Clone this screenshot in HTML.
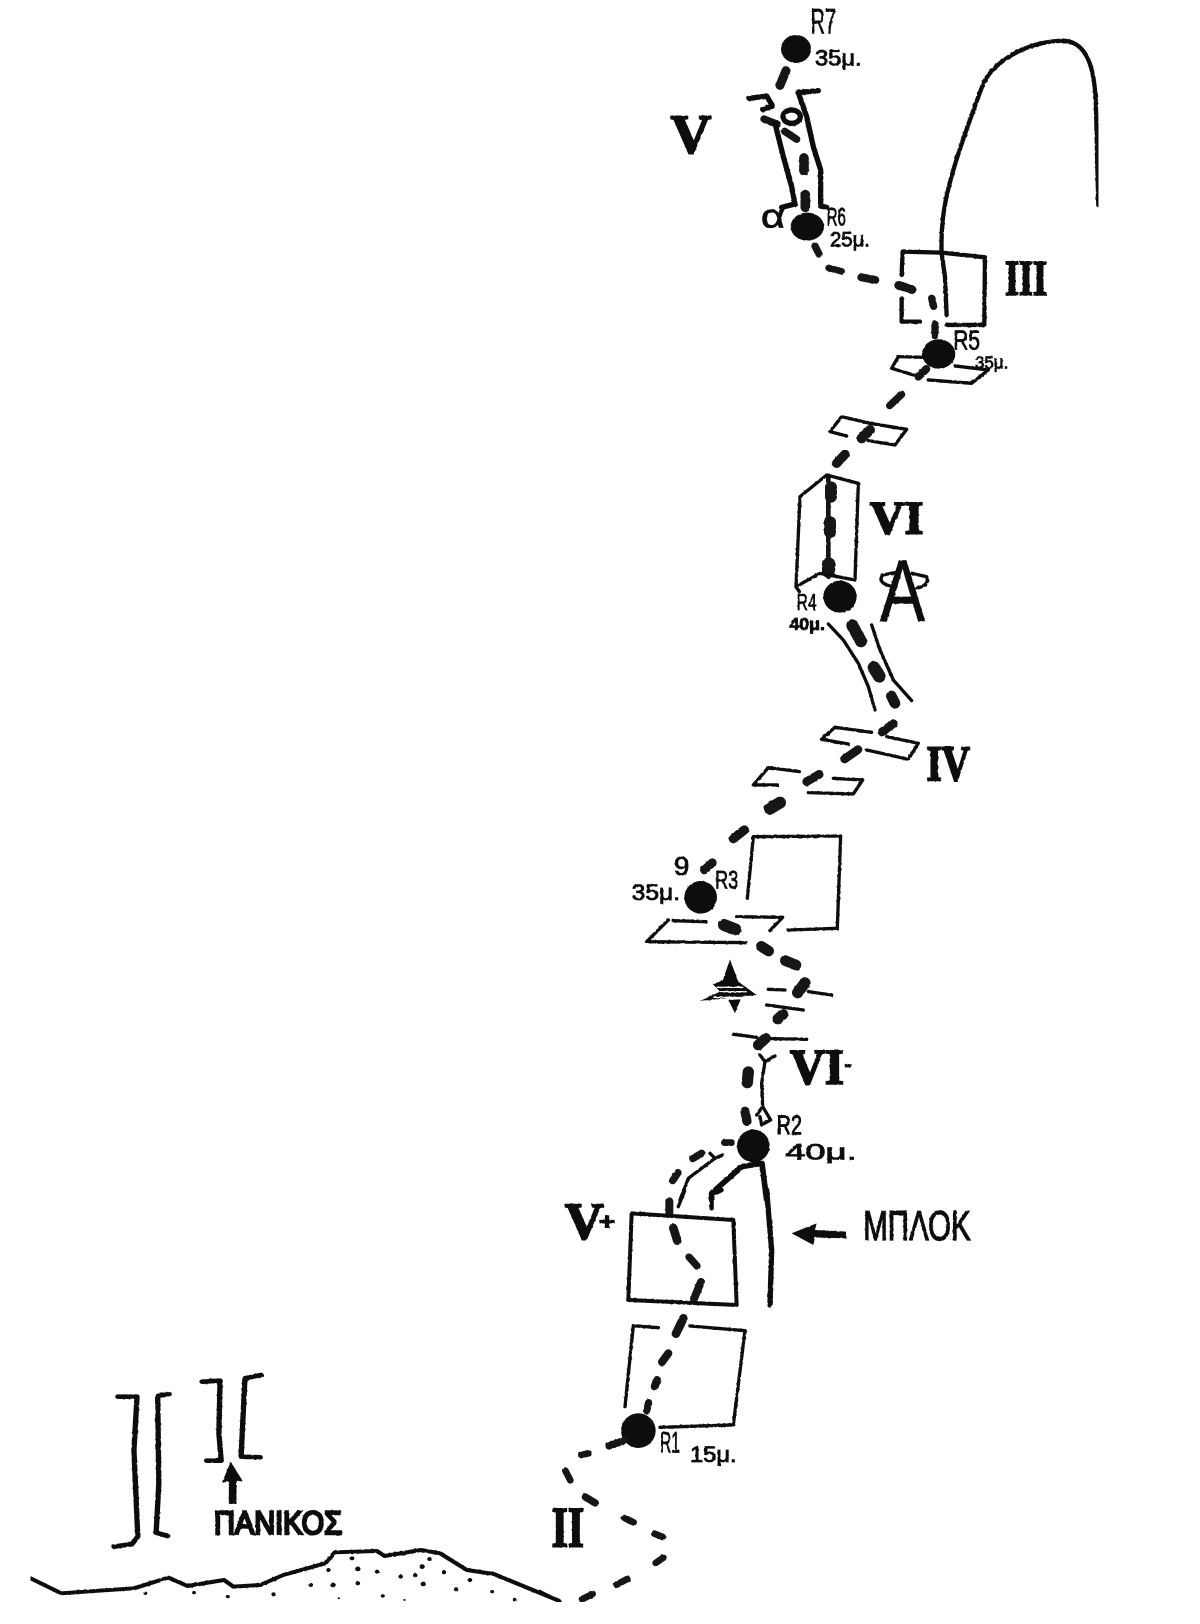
<!DOCTYPE html>
<html><head><meta charset="utf-8"><style>
html,body{margin:0;padding:0;background:#fff;width:1200px;height:1624px;overflow:hidden}
svg{display:block}
path,ellipse,polygon{stroke-linejoin:round}
.l{fill:none;stroke:#111;stroke-linecap:round}
.d{fill:none;stroke:#151515;stroke-linecap:round}
.r{font-family:"Liberation Serif",serif;font-weight:700;fill:#111;stroke:#111;stroke-width:6}
.h{font-family:"Liberation Sans",sans-serif;fill:#111;stroke:#111;stroke-width:2.5}
</style></head><body>
<svg xmlns="http://www.w3.org/2000/svg" width="1200" height="1624" viewBox="0 0 1200 1624">
<defs><filter id="f" x="0" y="0" width="100%" height="100%"><feTurbulence type="fractalNoise" baseFrequency="0.35" numOctaves="1" seed="3"/><feDisplacementMap in="SourceGraphic" scale="1.6"/></filter></defs>
<rect width="1200" height="1624" fill="#fff"/>
<g filter="url(#f)">

<g transform="translate(650,0) scale(.3333)">
<ellipse cx="438" cy="147" rx="45" ry="42" fill="#111"/><ellipse cx="472" cy="680" rx="50" ry="42" fill="#111"/><ellipse cx="866" cy="1062" rx="50" ry="44" fill="#111"/>
<g class="d">
<path stroke-width="27" d="M408 212L390 256"/><path stroke-width="29" d="M462 474V512"/><path stroke-width="29" d="M466 584V622"/><path stroke-width="22" d="M495 738L507 762"/><path stroke-width="20" d="M536 804L575 814"/><path stroke-width="24" d="M634 832L676 840"/><path stroke-width="26" d="M746 856L786 869"/><path stroke-width="22" d="M845 895L851 919"/><path stroke-width="22" d="M855 973V1007"/><path stroke-width="24" d="M805 1130L829 1107"/><path stroke-width="22" d="M719 1217L755 1183"/>
<path stroke-width="22" d="M342 357L382 373"/><path stroke-width="22" d="M404 394L440 418"/>
</g>
<g class="l" stroke-width="16">
<path d="M298 295L350 288L368 318L338 328"/><path d="M375 370L400 470L425 560L435 612L395 622"/>
<path d="M505 272L445 278L470 350L490 440L512 510L512 618L530 622"/>
<ellipse cx="425" cy="350" rx="26" ry="20"/>
<path stroke-width="13" d="M875 760C870 620 900 520 1000 250C1030 190 1120 125 1240 122C1310 125 1335 200 1338 320L1345 615"/>
<path stroke-width="13" d="M755 825L758 755L875 758L1005 772L1003 975L890 975M755 895V965L810 965M875 760L885 830L890 945"/>
<path stroke-width="10" d="M815 1072L745 1070L725 1105L790 1125M835 1140L965 1150L1015 1110L915 1098"/>
</g>
<text class="r" x="62" y="458" font-size="165" textLength="122" lengthAdjust="spacingAndGlyphs">V</text>
<text class="r" x="1065" y="884" font-size="150" textLength="126" lengthAdjust="spacingAndGlyphs">III</text>
<text class="h" x="482" y="100" font-size="105" textLength="76" lengthAdjust="spacingAndGlyphs">R7</text>
<text class="h" x="495" y="196" font-size="66" textLength="140" lengthAdjust="spacingAndGlyphs">35μ.</text>
<text class="h" x="333" y="683" font-size="100" textLength="72" lengthAdjust="spacingAndGlyphs">α</text>
<text class="h" x="530" y="676" font-size="76" textLength="58" lengthAdjust="spacingAndGlyphs">R6</text>
<text class="h" x="540" y="740" font-size="64" textLength="120" lengthAdjust="spacingAndGlyphs">25μ.</text>
<text class="h" x="910" y="1048" font-size="84" textLength="80" lengthAdjust="spacingAndGlyphs">R5</text>
<text class="h" x="975" y="1106" font-size="54" textLength="100" lengthAdjust="spacingAndGlyphs">35μ.</text>
</g>

<g transform="translate(700,400) scale(.3333)">
<ellipse cx="420" cy="590" rx="50" ry="48" fill="#111"/>
<g class="d">
<path stroke-width="30" d="M485 115L510 90"/><path stroke-width="28" d="M410 190L435 163"/>
<path stroke-width="14" d="M385 232V530"/><path stroke-width="36" d="M393 262V290"/><path stroke-width="36" d="M390 366V396"/><path stroke-width="40" d="M386 492V514"/>
<path stroke-width="36" d="M457 676L483 724"/><path stroke-width="38" d="M522 803L538 829"/><path stroke-width="32" d="M574 888L585 910"/><path stroke-width="26" d="M546 996L580 971"/><path stroke-width="26" d="M434 1077L474 1049"/><path stroke-width="26" d="M320 1145L358 1123"/><path stroke-width="36" d="M210 1226L240 1208"/>
</g>
<g class="l" stroke-width="10">
<path d="M440 108L390 95L425 50L510 70L620 88L585 135L505 122"/>
<path d="M380 225L300 290L288 560L360 520L465 540L475 250Z"/><path d="M288 560L298 575"/>
<path d="M385 672L430 720L475 790L505 860L525 930M515 675L540 750L580 840L635 902"/>
<path d="M515 997L405 982L365 1018L445 1032M560 1010L655 1030L625 1078L500 1050"/>
<path d="M298 1115L205 1103L160 1155L232 1155M400 1135L488 1140L460 1182L325 1178"/>
<path d="M600 515L548 525Q530 550 580 560M635 520L680 530Q690 555 650 565"/>
</g>
<text class="h" x="540" y="665" font-size="265" textLength="135" lengthAdjust="spacingAndGlyphs">A</text>
<text class="r" x="510" y="400" font-size="140" textLength="160" lengthAdjust="spacingAndGlyphs">VI</text>
<text class="r" x="680" y="1140" font-size="150" textLength="130" lengthAdjust="spacingAndGlyphs">IV</text>
<text class="h" x="290" y="630" font-size="70" textLength="60" lengthAdjust="spacingAndGlyphs">R4</text>
<text class="h" x="268" y="690" font-size="54" textLength="107" lengthAdjust="spacingAndGlyphs" font-weight="700">40μ.</text>
</g>

<g transform="translate(600,800) scale(.3333)">
<circle cx="302" cy="292" r="49" fill="#111"/><circle cx="460" cy="1038" r="49" fill="#111"/>
<g class="d">
<path stroke-width="28" d="M400 116L433 90"/><path stroke-width="26" d="M313 210L337 188"/><path stroke-width="36" d="M372 375L406 388"/><path stroke-width="32" d="M484 439L506 453"/><path stroke-width="32" d="M556 482L588 495"/><path stroke-width="34" d="M593 578L615 549"/><path stroke-width="32" d="M533 657L549 643"/><path stroke-width="32" d="M475 735L497 715"/><path stroke-width="34" d="M445 816L442 848"/><path stroke-width="28" d="M435 934L441 964"/><path stroke-width="20" d="M373 1028H395"/><path stroke-width="22" d="M278 1076L305 1060"/><path stroke-width="22" d="M218 1142L234 1118"/>
</g>
<g class="l" stroke-width="10">
<path d="M442 295L460 110L722 108L712 385L565 390"/>
<path d="M205 360L140 425L438 428M220 362L318 365M410 350L548 352L510 392"/>
<path d="M505 568L555 570M625 575L695 585M500 615L610 630M400 703L470 712M515 716L620 718"/>
<path d="M480 765L495 785L525 768M495 785L485 850L488 920L470 945M488 920L512 960L485 975L480 950"/>
<path d="M330 1060L345 1075L368 1065M345 1075L265 1135L240 1200"/>
<path stroke-width="17" d="M500 1200L486 1090L425 1100L335 1180V1200"/>
</g>
<polygon fill="#111" points="390,478 415,545 470,585 300,603 360,575 338,552 368,542"/>
<polygon fill="#111" points="385,600 422,598 405,640"/>
<path stroke="#fff" stroke-width="4" d="M350 562H430M360 575H440M340 592H410"/>
<text class="r" x="570" y="850" font-size="150" textLength="162" lengthAdjust="spacingAndGlyphs">VI</text>
<text class="h" x="733" y="815" font-size="70" font-weight="700">-</text>
<text class="h" x="222" y="225" font-size="78" textLength="46" lengthAdjust="spacingAndGlyphs">9</text>
<text class="h" x="345" y="265" font-size="76" textLength="70" lengthAdjust="spacingAndGlyphs">R3</text>
<text class="h" x="95" y="300" font-size="66" textLength="145" lengthAdjust="spacingAndGlyphs">35μ.</text>
<text class="h" x="530" y="1003" font-size="82" textLength="76" lengthAdjust="spacingAndGlyphs">R2</text>
<text class="h" x="555" y="1078" font-size="66" textLength="215" lengthAdjust="spacingAndGlyphs">40μ.</text>
</g>

<g transform="translate(540,1190) scale(.3333)">
<circle cx="295" cy="722" r="52" fill="#111"/>
<g class="d">
<path stroke-width="24" d="M388 34V68"/><path stroke-width="26" d="M400 114L412 152"/><path stroke-width="22" d="M447 201L471 228"/><path stroke-width="24" d="M483 276L462 326"/><path stroke-width="26" d="M430 385L408 431"/><path stroke-width="24" d="M385 490L366 516"/><path stroke-width="24" d="M351 570L344 590"/><path stroke-width="22" d="M326 638L320 662"/><path stroke-width="22" d="M207 768L250 752"/><path stroke-width="20" d="M124 795L146 790"/><path stroke-width="20" d="M76 842L91 871"/><path stroke-width="22" d="M136 921L166 939"/><path stroke-width="20" d="M253 984L281 997"/><path stroke-width="20" d="M343 1031L368 1041"/><path stroke-width="20" d="M347 1119L370 1103"/><path stroke-width="20" d="M230 1184L262 1167"/><path stroke-width="20" d="M126 1228L158 1212"/>
</g>
<g class="l" stroke-width="10">
<path d="M415 50L435 0"/>
<path stroke-width="12" d="M275 70L580 90L590 345L265 330Z"/>
<path d="M355 413L280 407L255 650M450 408L615 422L580 705L360 712"/>
<path d="M0 1205L60 1235"/>
<path stroke-width="13" d="M515 55L515 15L545 0"/>
<path stroke-width="16" d="M680 0L695 180L690 345"/>
</g>
<polygon fill="#111" points="755,130 830,100 825,120 918,125 918,145 825,142 820,165"/>
<text class="r" x="75" y="145" font-size="155" textLength="115" lengthAdjust="spacingAndGlyphs">V</text>
<text class="r" x="178" y="118" font-size="70" textLength="47" lengthAdjust="spacingAndGlyphs">+</text>
<text class="r" x="35" y="1070" font-size="170" textLength="97" lengthAdjust="spacingAndGlyphs">II</text>
<text class="h" x="970" y="150" font-size="125" textLength="322" lengthAdjust="spacingAndGlyphs" style="stroke-width:4">ΜΠΛΟΚ</text>
<text class="h" x="360" y="788" font-size="88" textLength="60" lengthAdjust="spacingAndGlyphs">R1</text>
<text class="h" x="450" y="816" font-size="66" textLength="140" lengthAdjust="spacingAndGlyphs">15μ.</text>
</g>

<g transform="translate(0,1350) scale(.3827,.3333)">
<g class="l" stroke-width="14">
<path d="M308 140L358 140L350 300L360 560L345 582L298 590"/>
<path d="M442 132L412 138L415 400L408 548L438 558"/>
<path d="M528 95L575 92L572 250L578 332L540 332"/>
<path d="M682 75L640 85L630 320L680 322"/>
<path stroke-width="12" d="M80 685L160 730L350 715L440 683L490 708L585 690L610 710L680 705L740 675L850 640L875 607L985 603L1005 618L1100 600L1150 610L1220 660L1290 672L1460 752"/>
</g>
<polygon fill="#111" points="603,335 635,395 618,392 618,462 598,462 598,395 580,398"/>
<g fill="#111"><circle cx="380" cy="730" r="5"/><circle cx="507" cy="728" r="5"/><circle cx="595" cy="740" r="5"/><circle cx="715" cy="733" r="6"/><circle cx="812" cy="705" r="6"/><circle cx="858" cy="660" r="6"/><circle cx="870" cy="705" r="7"/><circle cx="920" cy="625" r="6"/><circle cx="935" cy="657" r="7"/><circle cx="935" cy="700" r="6"/><circle cx="985" cy="665" r="6"/><circle cx="1000" cy="738" r="5"/><circle cx="1047" cy="680" r="6"/><circle cx="1085" cy="676" r="6"/><circle cx="1103" cy="650" r="7"/><circle cx="1106" cy="702" r="7"/><circle cx="1122" cy="627" r="6"/><circle cx="1160" cy="667" r="6"/><circle cx="1192" cy="718" r="6"/><circle cx="1228" cy="690" r="6"/><circle cx="1286" cy="725" r="5"/><circle cx="1345" cy="750" r="5"/><circle cx="885" cy="745" r="3"/><circle cx="1057" cy="750" r="3"/></g>
</g>
<text x="214" y="1534" font-size="32" textLength="128" lengthAdjust="spacingAndGlyphs" class="h">ΠΑΝΙΚΟΣ</text>
</g>
</svg>
</body></html>
